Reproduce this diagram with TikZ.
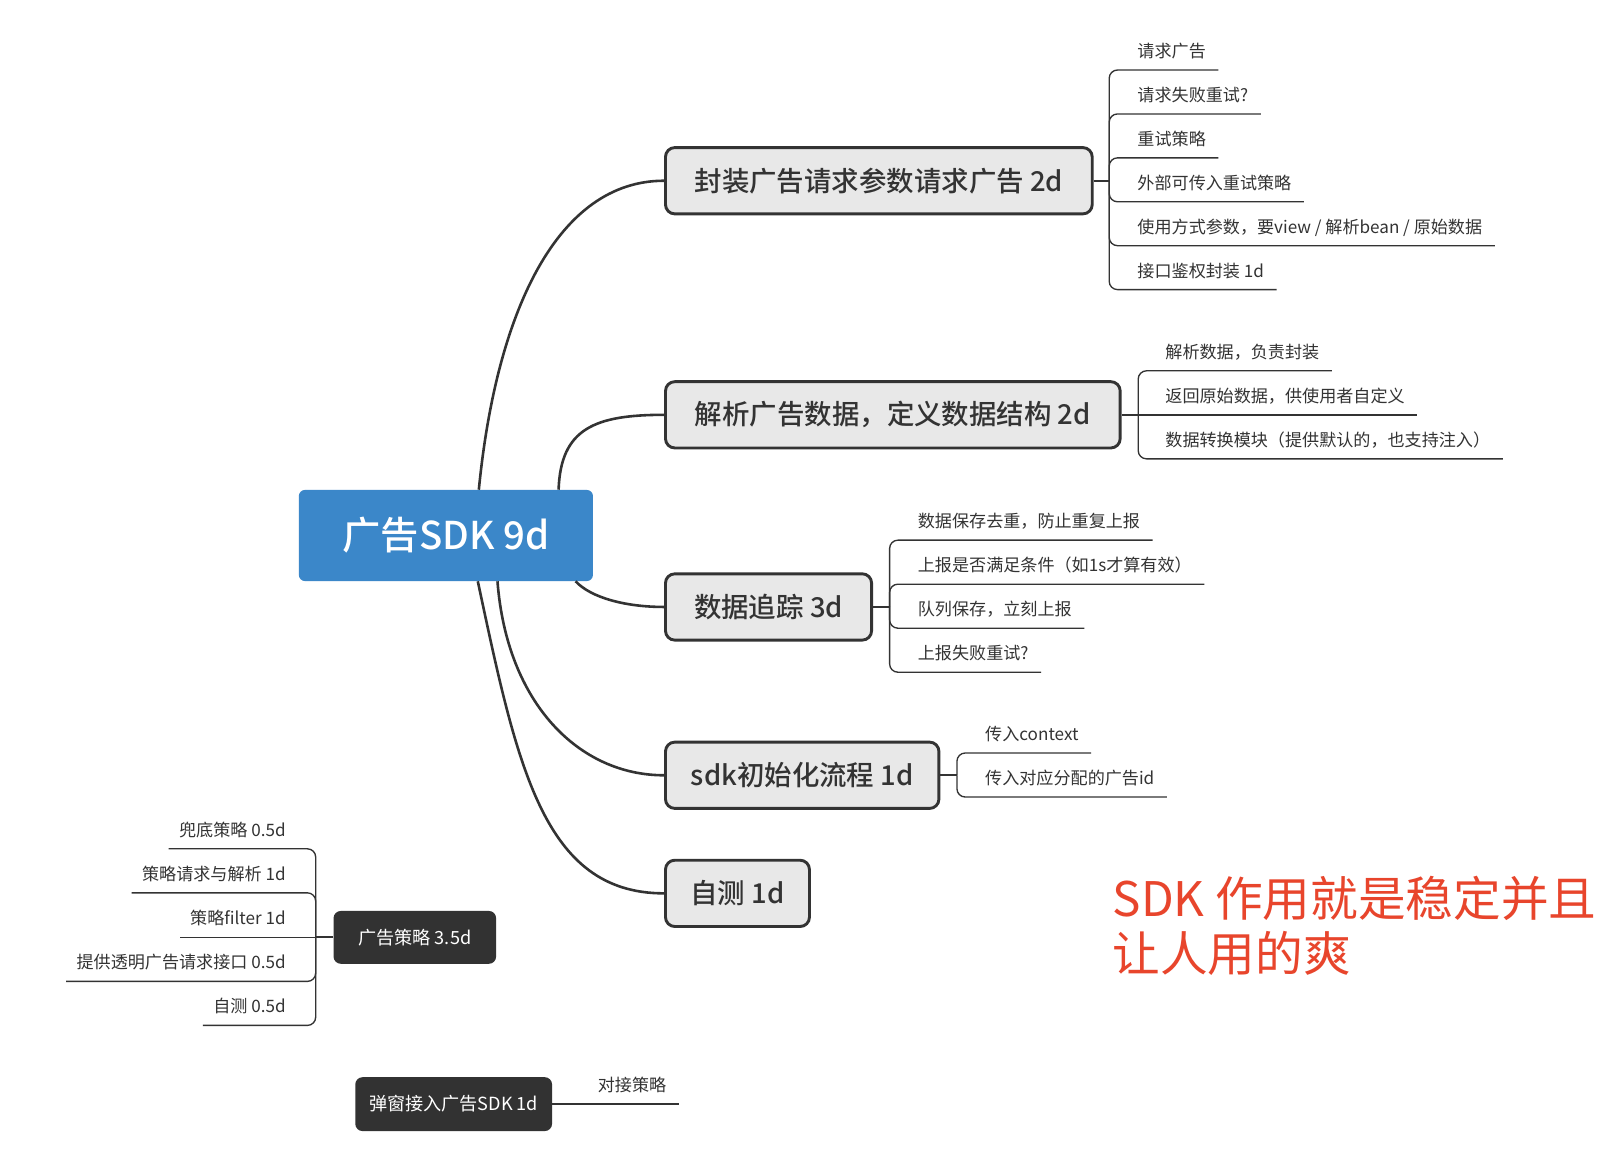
\documentclass[tikz,border=0pt]{standalone}
\usepackage{fontspec}
\setmainfont{Noto Sans CJK SC}
\IfFontExistsTF{Noto Sans CJK SC Medium}{\newfontfamily\medfont{Noto Sans CJK SC Medium}}{\newfontfamily\medfont{Noto Sans CJK SC}[FakeBold=1.2]}
\usetikzlibrary{calc}
\definecolor{ink}{HTML}{333333}
\definecolor{rootblue}{HTML}{3B87C9}
\definecolor{boxgray}{HTML}{E8E8E8}
\definecolor{darkbox}{HTML}{323232}
\definecolor{notered}{HTML}{E8452C}
\begin{document}
\begin{tikzpicture}[x=1pt,y=-1pt,
  rootnode/.style={fill=rootblue, rounded corners=6pt, text=white, font=\fontsize{37}{40}\selectfont\medfont, minimum width=284pt, minimum height=88pt, inner sep=0},
  mainnode/.style={draw=ink, line width=2.8pt, fill=boxgray, rounded corners=9pt, text=ink, font=\fontsize{26.5}{30}\selectfont\medfont, minimum height=64pt, inner sep=0},
  darknode/.style={fill=darkbox, rounded corners=7pt, text=white, font=\fontsize{17.5}{20}\selectfont, inner sep=0},
  leaf/.style={text=ink, font=\fontsize{16.5}{20}\selectfont, inner sep=0},
  trunk/.style={draw=ink, line width=2.5pt},
  stub/.style={draw=ink, line width=2pt},
  twig/.style={draw=ink, line width=1.3pt, rounded corners=8pt},
]
\fill[white] (0,0) rectangle (1566,1122);
\useasboundingbox (0,0) rectangle (1566,1122);

% root and main topics
\node[rootnode] (root) at (430.5,517) {广告SDK 9d};
\node[mainnode, minimum width=412pt] (n1) at (848.5,174.5) {封装广告请求参数请求广告 2d};
\node[mainnode, minimum width=439pt] (n2) at (862,400.5) {解析广告数据，定义数据结构 2d};
\node[mainnode, minimum width=199pt] (n3) at (742,586) {数据追踪 3d};
\node[mainnode, minimum width=264pt] (n4) at (774.5,748.5) {sdk初始化流程 1d};
\node[mainnode, minimum width=139pt] (n5) at (712,862.5) {自测 1d};

% attachment points on root
\coordinate (rt1) at ($(root.north west)+(174,0)$);
\coordinate (rt2) at ($(root.north west)+(251,0)$);
\coordinate (rb3) at ($(root.south east)+(-17,0)$);
\coordinate (rb4) at ($(root.south west)+(192,0)$);
\coordinate (rb5) at ($(root.south west)+(173,0)$);

\draw[trunk] (rt1) .. controls +(17,-174) and +(-102,0) .. (n1.west);
\draw[trunk] (rt2) .. controls +(2,-59) and +(-67,0) .. (n2.west);
\draw[trunk] (rb3) .. controls +(15,16) and +(-37,0) .. (n3.west);
\draw[trunk] (rb4) .. controls +(9,118) and +(-82,0) .. (n4.west);
\draw[trunk] (rb5) .. controls +(38,178) and +(-117,0) .. (n5.west);

% children of n1
\coordinate (j1) at ($(n1.east)+(15,0)$);
\draw[stub] (n1.east) -- (j1);
\node[leaf, anchor=base west] (c11) at (1098,55.6) {请求广告};
\node[leaf, anchor=base west] (c12) at (1098,98) {请求失败重试?};
\node[leaf, anchor=base west] (c13) at (1098,140.4) {重试策略};
\node[leaf, anchor=base west] (c14) at (1098,182.8) {外部可传入重试策略};
\node[leaf, anchor=base west] (c15) at (1098,225.2) {使用方式参数，要view / 解析bean / 原始数据};
\node[leaf, anchor=base west] (c16) at (1098,267.6) {接口鉴权封装 1d};
\foreach \c in {c11,c12,c13,c14,c15,c16}
  \draw[twig] (j1) |- ($(\c.base east)+(12,12)$);

% children of n2
\coordinate (j2) at ($(n2.east)+(16,0)$);
\draw[stub] (n2.east) -- (j2);
\node[leaf, anchor=base west] (c21) at (1125,346) {解析数据，负责封装};
\node[leaf, anchor=base west] (c22) at (1125,388.5) {返回原始数据，供使用者自定义};
\node[leaf, anchor=base west] (c23) at (1125,431) {数据转换模块（提供默认的，也支持注入）};
\draw[twig] (j2) |- ($(c21.base east)+(12,12)$);
\draw[twig] (j2) -- ($(c22.base east)+(12,12)$);
\draw[twig] (j2) |- ($(c23.base east)+(12,12)$);

% children of n3
\coordinate (j3) at ($(n3.east)+(16,0)$);
\draw[stub] (n3.east) -- (j3);
\node[leaf, anchor=base west] (c31) at (886,509.5) {数据保存去重，防止重复上报};
\node[leaf, anchor=base west] (c32) at (886,552) {上报是否满足条件（如1s才算有效）};
\node[leaf, anchor=base west] (c33) at (886,594.5) {队列保存，立刻上报};
\node[leaf, anchor=base west] (c34) at (886,637) {上报失败重试?};
\foreach \c in {c31,c32,c33,c34}
  \draw[twig] (j3) |- ($(\c.base east)+(12,12)$);

% children of n4
\coordinate (j4) at ($(n4.east)+(16,0)$);
\draw[stub] (n4.east) -- (j4);
\node[leaf, anchor=base west] (c41) at (951,715) {传入context};
\node[leaf, anchor=base west] (c42) at (951,757.5) {传入对应分配的广告id};
\foreach \c in {c41,c42}
  \draw[twig] (j4) |- ($(\c.base east)+(12,12)$);

% strategy topic
\node[darknode, minimum width=157pt, minimum height=51pt] (s1) at (400.5,905) {广告策略 3.5d};
\coordinate (js) at ($(s1.west)+(-17,0)$);
\draw[stub] (s1.west) -- (js);
\node[leaf, anchor=base east] (cs1) at (276,807.5) {兜底策略 0.5d};
\node[leaf, anchor=base east] (cs2) at (276,850) {策略请求与解析 1d};
\node[leaf, anchor=base east] (cs3) at (276,893) {策略filter 1d};
\node[leaf, anchor=base east] (cs4) at (276,935.5) {提供透明广告请求接口 0.5d};
\node[leaf, anchor=base east] (cs5) at (276,978) {自测 0.5d};
\draw[twig] (js) |- ($(cs1.base west)+(-10,12)$);
\draw[twig] (js) |- ($(cs2.base west)+(-10,12)$);
\draw[twig] (js) -- ($(cs3.base west)+(-10,12)$);
\draw[twig] (js) |- ($(cs4.base west)+(-10,12)$);
\draw[twig] (js) |- ($(cs5.base west)+(-10,12)$);

% popup topic
\node[darknode, minimum width=190pt, minimum height=52pt] (b1) at (438,1066) {弹窗接入广告SDK 1d};
\node[leaf, anchor=base west] (cb1) at (577,1054) {对接策略};
\draw[twig] (b1.east) -- ($(cb1.base east)+(12,12)$);

% note
\node[anchor=north west, text=notered, font=\fontsize{46}{53}\selectfont, align=left, inner sep=0] (memo) at (1074,846) {SDK 作用就是稳定并且\\让人用的爽};
\end{tikzpicture}
\end{document}
